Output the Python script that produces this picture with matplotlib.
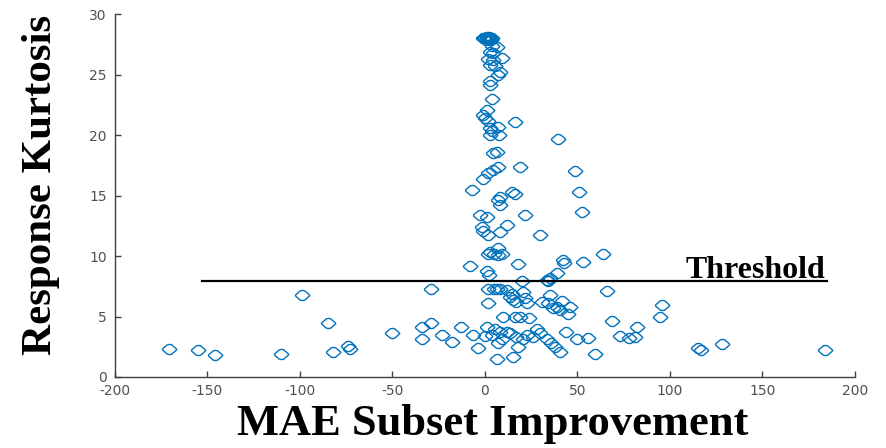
import numpy as np
import matplotlib
matplotlib.use('Agg')
import matplotlib.pyplot as plt

plt.rcParams['axes.unicode_minus'] = False

# MAE subset improvement (x) vs response kurtosis (y)
mae_improvement = [
    -171, -155, -146, -110, -99, -85, -82, -74, -73, -50, -29, -34, -29, -34, -23, -18, -13, -8, -7, -6.5, -3.5,
    0, 1, 4, 5.5, 8, 9.5, 12, 13.5, 17, 20.5, 23, 26, 28, 30, 7, 18, 6.5, 15,
    33.5, 36, 38, 40.5, 44, 50, 55.7, 59.5,
    9.7, 16, 19, 24, 1.6, 13.5, 15, 17, 21.6, 23, 31, 34, 35, 36.8, 39, 40.5, 41.6, 46, 45,
    1.6, 5, 6.5, 8, 12, 14.6, 20, 20.5, 33.5, 35, 34, 39,
    66, 68.6, 73, 78, 81, 82, 95.7, 94.6, 115, 117, 128, 184,
    1, 2, 1.6, 3, 5, 7, 9, 18, 42, 43, 53, 64, 7,
    -2.7, 1, -1.6, -1, 1.6, 8, 12, 21.6, 30, 52.4, 51, 48.6, 8, 7, 8, 14.6, 16,
    -1, 1.6, 4.3, 7, 19, 4.3, 6.5, 39.5,
    2.7, 7.5, 4, 3, 7, 1.6, 16, 0, -1, 1, 3.8, 2.7, 2.7, 7, 8, 2.7, 5.4,
    1.6, 4.3, 9.5, 2.7, 4.3, 4, 6.5,
    -1, -0.5, 0, 0.5, 1, 1.5, 2, 2.5, 3, 3.5, 4, 1, 2, 3,
]
kurtosis = [
    2.3, 2.2, 1.8, 1.9, 6.8, 4.5, 2.1, 2.6, 2.3, 3.6, 7.3, 4.1, 4.5, 3.1, 3.5, 2.9, 4.1, 9.2, 15.5, 3.5, 2.4,
    3.4, 4.1, 3.5, 4.0, 3.7, 3.1, 3.7, 3.6, 3.3, 3.1, 3.5, 3.3, 4.0, 3.6, 2.8, 2.5, 1.5, 1.65,
    3.1, 2.8, 2.5, 2.1, 3.7, 3.1, 3.2, 1.9,
    5.0, 5.0, 5.0, 4.9, 6.1, 6.6, 6.4, 6.2, 6.5, 6.1, 6.2, 6.1, 6.8, 5.7, 5.8, 5.5, 6.3, 5.8, 5.2,
    7.3, 7.3, 7.3, 7.3, 7.2, 6.9, 7.9, 7.0, 8.0, 8.2, 7.9, 8.6,
    7.1, 4.6, 3.4, 3.2, 3.3, 4.1, 5.95, 5.0, 2.4, 2.2, 2.7, 2.2,
    8.8, 8.4, 10.2, 10.3, 10.2, 10.1, 10.2, 9.3, 9.7, 9.4, 9.5, 10.2, 10.7,
    13.4, 13.2, 12.4, 12.1, 11.7, 12.0, 12.6, 13.4, 11.7, 13.6, 15.3, 17.0, 14.9, 14.6, 14.2, 15.3, 15.1,
    16.4, 16.9, 17.1, 17.4, 17.4, 18.5, 18.6, 19.7,
    20.0, 20.0, 20.3, 20.6, 20.7, 21.2, 21.1, 21.4, 21.7, 22.1, 23.0, 24.1, 24.5, 25.0, 25.2, 25.8, 25.7,
    26.3, 26.2, 26.4, 26.9, 26.8, 27.4, 27.3,
    28.0, 28.0, 28.0, 27.9, 28.0, 28.0, 27.9, 28.0, 28.0, 27.9, 28.0, 28.1, 28.1, 27.95,
]

threshold = 7.9
threshold_x = [-153, 185]

x_ticks = np.arange(-200, 201, 50)
y_ticks = np.arange(0, 31, 5)

# rounded diamond, a bit wider than tall
marker_verts = [(-1, 0), (-0.88, 0.14), (-0.3, 0.64), (0, 0.7), (0.3, 0.64), (0.88, 0.14),
                (1, 0), (0.88, -0.14), (0.3, -0.64), (0, -0.7), (-0.3, -0.64), (-0.88, -0.14), (-1, 0)]

fig = plt.figure(figsize=(8.86, 4.48), dpi=100)
ax = fig.add_axes([0.1298, 0.1585, 0.835, 0.810])

ax.plot(mae_improvement, kurtosis, linestyle='none', marker=marker_verts,
        markersize=10.5, markerfacecolor='none', markeredgecolor='#0072BD',
        markeredgewidth=1.0)

ax.plot(threshold_x, [threshold, threshold], color='black', linewidth=1.6)
ax.text(184, threshold + 0.25, 'Threshold', ha='right', va='baseline',
        family='Liberation Serif', fontweight='bold', fontsize=23)

ax.set_xlim(-200, 200)
ax.set_ylim(0, 30)
ax.set_xticks(x_ticks)
ax.set_yticks(y_ticks)

for side in ['top', 'right']:
    ax.spines[side].set_visible(False)
for side in ['left', 'bottom']:
    ax.spines[side].set_color('#404040')
    ax.spines[side].set_linewidth(1.0)

ax.tick_params(direction='in', length=4, width=1.0, color='#404040',
               labelcolor='#505050', labelsize=10)
ax.tick_params(axis='y', pad=6)
ax.tick_params(axis='x', pad=5)
for lab in ax.get_xticklabels() + ax.get_yticklabels():
    lab.set_family('DejaVu Sans')

ax.set_xlabel('MAE Subset Improvement', family='Liberation Serif',
              fontweight='bold', fontsize=32)
ax.set_ylabel('Response Kurtosis', family='Liberation Serif',
              fontweight='bold', fontsize=31)
ax.xaxis.set_label_coords(0.51, -0.075)
ax.yaxis.set_label_coords(-0.074, 0.53)

fig.savefig('out.png', dpi=100)
